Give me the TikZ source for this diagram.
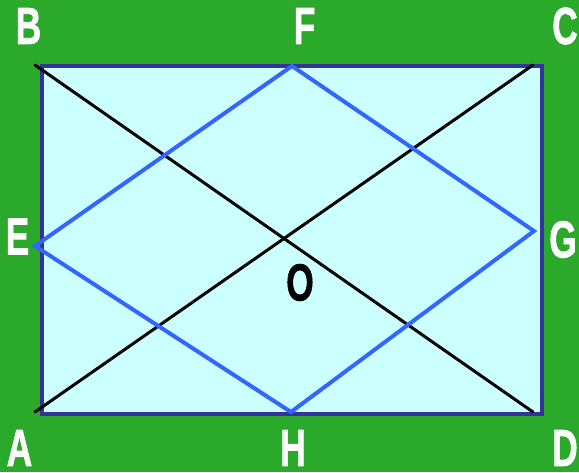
\documentclass[tikz,border=0pt]{standalone}
\usepackage{fontspec}
\newfontfamily\labfont{Liberation Sans}[BoldFont=* Bold, BoldFeatures={FakeBold=1.5}]
\definecolor{bggreen}{HTML}{2AA92A}
\definecolor{boxfill}{HTML}{CCFFFF}
\definecolor{boxedge}{HTML}{333399}
\definecolor{rhomb}{HTML}{3366FF}
\tikzset{
  lab/.style={inner sep=0pt, text=white, font=\labfont\bfseries\fontsize{52}{52}\selectfont},
  diag/.style={black, line width=3pt, line cap=round},
  rhline/.style={rhomb, line width=4pt, line join=miter},
}
\newcommand{\narrow}[1]{\scalebox{0.68}[1]{#1}}
\begin{document}
\begin{tikzpicture}[x=1pt,y=-1pt]
\useasboundingbox (0,0) rectangle (579,472);
\fill[bggreen] (0,0) rectangle (579,472);
% rectangle
\coordinate (rB) at (42,65.5);
\coordinate (rD) at (541.5,413.5);
\draw[boxedge, fill=boxfill, line width=4pt] (rB) rectangle (rD);
% diagonal ends
\coordinate (dB) at (35,65);
\coordinate (dC) at (533,65);
\coordinate (dA) at (35,412);
\coordinate (dD) at (533,412);
\draw[diag] (dB) -- (dD);
\draw[diag] (dA) -- (dC);
% rhombus
\coordinate (pF) at (292,66);
\coordinate (pG) at (534,231);
\coordinate (pH) at (291,412);
\coordinate (pE) at (35,246);
\draw[rhline] (pF) -- (pG) -- (pH) -- (pE) -- cycle;
% labels
\node[lab] (lB) at (28.5,26) {\narrow{B}};
\node[lab] (lF) at (304.5,26) {\narrow{F}};
\node[lab] (lC) at (565,26) {\narrow{C}};
\node[lab] (lE) at (17.5,236.5) {\narrow{E}};
\node[lab] (lG) at (563,239.5) {\narrow{G}};
\node[lab] (lA) at (19.5,448) {\narrow{A}};
\node[lab] (lH) at (293,448) {\narrow{H}};
\node[lab] (lD) at (565,448) {\narrow{D}};
\node[lab, text=black] (lO) at (300,282.5) {\narrow{O}};
\end{tikzpicture}
\end{document}
